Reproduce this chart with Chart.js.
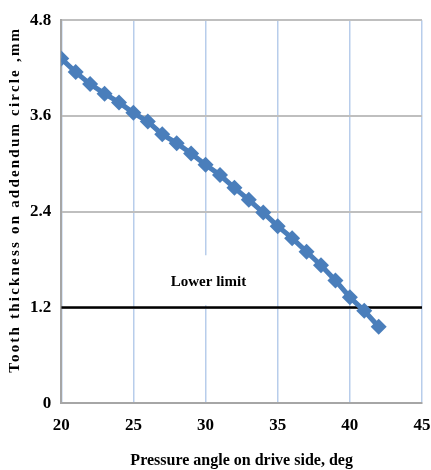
<!DOCTYPE html>
<html>
<head>
<meta charset="utf-8">
<script src="https://cdn.jsdelivr.net/npm/chart.js@4.4.0/dist/chart.umd.min.js"></script>
<style>
  html, body { margin: 0; padding: 0; background: #fff; }
  #wrap { width: 431px; height: 470px; }
</style>
</head>
<body>
<div id="wrap"><canvas id="chart"></canvas></div>
<script>
// tooth thickness vs pressure angle
const angles = [20, 21, 22, 23, 24, 25, 26, 27, 28, 29, 30, 31, 32, 33, 34, 35, 36, 37, 38, 39, 40, 41, 42];
const thickness = [4.32, 4.15, 4.00, 3.88, 3.77, 3.64, 3.53, 3.37, 3.26, 3.13, 2.99, 2.86, 2.70, 2.55, 2.39, 2.22, 2.07, 1.90, 1.73, 1.54, 1.33, 1.16, 0.96];

// minimum allowed thickness
const limitAngles = [20, 45];
const limitThickness = [1.2, 1.2];
const limitLabel = 'Lower limit';
const limitLabelAt = [30.2, 1.53];

const xTicks = [20, 25, 30, 35, 40, 45];
const yTicks = [0, 1.2, 2.4, 3.6, 4.8];

const xTitle = 'Pressure angle on drive side, deg';
const yTitle = 'Tooth thickness on addendum circle ,mm';

const FONT = '"Liberation Serif", "Times New Roman", serif';
const BLUE = '#4a7ebb';

// white box + text for the limit line label
const limitLabelPlugin = {
  id: 'limitLabel',
  beforeDatasetsDraw(chart) {
    const { ctx, scales } = chart;
    const x = scales.x.getPixelForValue(limitLabelAt[0]);
    const y = scales.y.getPixelForValue(limitLabelAt[1]);
    ctx.save();
    ctx.font = 'bold 15px ' + FONT;
    const w = ctx.measureText(limitLabel).width;
    ctx.fillStyle = '#fff';
    ctx.fillRect(x - w / 2 - 14, y - 26, w + 28, 50);
    ctx.fillStyle = '#000';
    ctx.textAlign = 'center';
    ctx.textBaseline = 'middle';
    ctx.fillText(limitLabel, x, y + 1);
    ctx.restore();
  }
};

// spaced-out vertical axis title
const yTitlePlugin = {
  id: 'yTitle',
  afterDraw(chart) {
    const { ctx, chartArea } = chart;
    ctx.save();
    ctx.translate(15, (chartArea.top + chartArea.bottom) / 2 - 12);
    ctx.rotate(-Math.PI / 2);
    ctx.font = 'bold 15px ' + FONT;
    ctx.letterSpacing = '2.2px';
    ctx.fillStyle = '#000';
    ctx.textAlign = 'center';
    ctx.textBaseline = 'middle';
    ctx.fillText(yTitle, 0, 0);
    ctx.restore();
  }
};

new Chart(document.getElementById('chart'), {
  type: 'line',
  data: {
    datasets: [
      {
        data: angles.map((a, i) => ({ x: a, y: thickness[i] })),
        borderColor: BLUE,
        backgroundColor: BLUE,
        borderWidth: 5,
        pointStyle: 'rectRot',
        pointRadius: 8,
        pointBorderWidth: 0,
        pointBackgroundColor: BLUE,
        order: 1
      },
      {
        data: limitAngles.map((a, i) => ({ x: a, y: limitThickness[i] })),
        borderColor: '#000',
        borderWidth: 2.5,
        pointRadius: 0,
        order: 2
      }
    ]
  },
  options: {
    responsive: true,
    maintainAspectRatio: false,
    animation: false,
    events: [],
    layout: { padding: { left: 20, top: 10, right: 0, bottom: 0 } },
    plugins: {
      legend: { display: false },
      tooltip: { enabled: false }
    },
    scales: {
      x: {
        type: 'linear',
        min: 20,
        max: 45,
        afterBuildTicks: (s) => { s.ticks = xTicks.map(v => ({ value: v })); },
        afterFit: (s) => { s.paddingRight = 9; },
        grid: { color: '#b8cdeb', lineWidth: 1.5, drawTicks: false },
        border: { color: '#a6a6a6', width: 2 },
        ticks: {
          color: '#000',
          padding: 12,
          maxRotation: 0,
          font: { family: FONT, size: 17, weight: 'bold' }
        },
        title: {
          display: true,
          text: xTitle,
          color: '#000',
          padding: { top: 3, bottom: 0 },
          font: { family: FONT, size: 16, weight: 'bold' }
        }
      },
      y: {
        min: 0,
        max: 4.8,
        afterBuildTicks: (s) => { s.ticks = yTicks.map(v => ({ value: v })); },
        grid: { color: '#bfbfbf', lineWidth: 2, drawTicks: false },
        border: { color: '#a6a6a6', width: 2 },
        ticks: {
          color: '#000',
          padding: 10,
          font: { family: FONT, size: 17, weight: 'bold' }
        }
      }
    }
  },
  plugins: [limitLabelPlugin, yTitlePlugin]
});
</script>
</body>
</html>
